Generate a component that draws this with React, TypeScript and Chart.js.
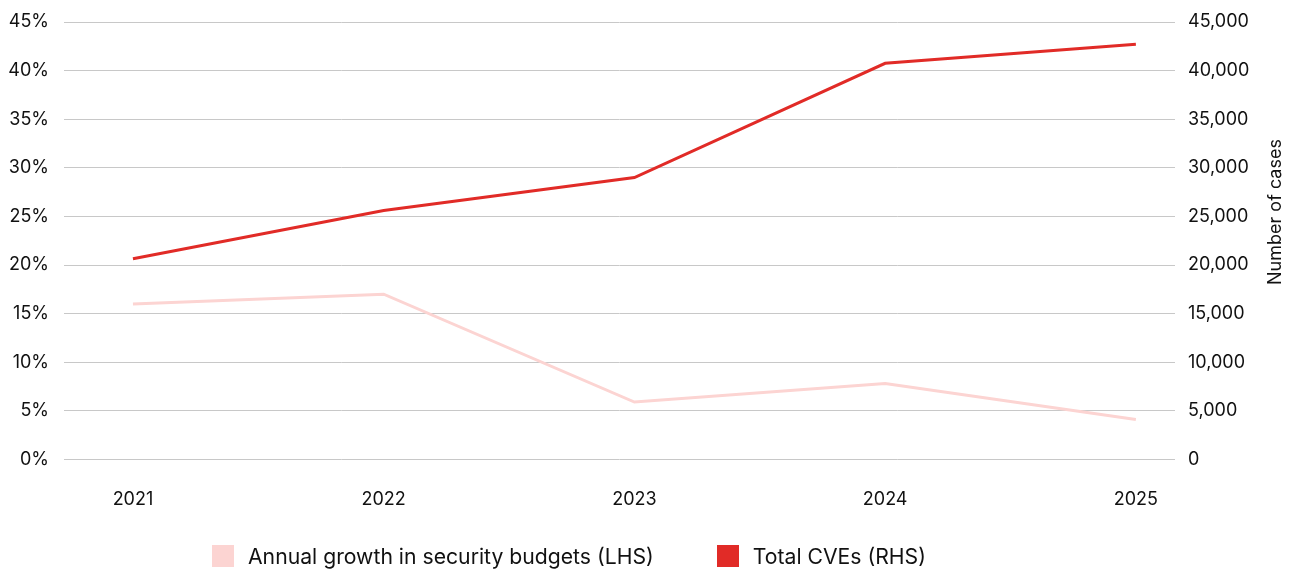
import React, { useEffect, useRef } from "react";
import { Chart, registerables } from "chart.js";

Chart.register(...registerables);

const years = [2021, 2022, 2023, 2024, 2025];
const budgetGrowth = [16.0, 17.0, 5.9, 7.8, 4.1];
const totalCVEs = [20650, 25600, 29000, 40750, 42700];
const leftTicks = [0, 5, 10, 15, 20, 25, 30, 35, 40, 45];
const rightTicks = [0, 5000, 10000, 15000, 20000, 25000, 30000, 35000, 40000, 45000];

const RED = "#e12b27";
const PINK = "#fcd4d2";
const FONT = "Inter, 'Noto Sans', sans-serif";

const rightTitle = {
  id: "rightTitle",
  afterDraw(chart: any) {
    const ctx = chart.ctx;
    ctx.save();
    ctx.translate(1276, 212);
    ctx.rotate(-Math.PI / 2);
    ctx.font = `18px ${FONT}`;
    ctx.fillStyle = "#111";
    ctx.textAlign = "center";
    ctx.textBaseline = "middle";
    ctx.fillText("Number of cases", 0, 0);
    ctx.restore();
  },
};

export default function App() {
  const ref = useRef<HTMLCanvasElement>(null);
  useEffect(() => {
    if (!ref.current) return;
    const chart = new Chart(ref.current, {
      type: "line",
      data: {
        datasets: [
          {
            label: "Annual growth in security budgets (LHS)",
            data: years.map((y, i) => ({ x: y, y: budgetGrowth[i] })),
            borderColor: PINK,
            backgroundColor: PINK,
            borderWidth: 3,
            pointRadius: 0,
            yAxisID: "y",
          },
          {
            label: "Total CVEs (RHS)",
            data: years.map((y, i) => ({ x: y, y: totalCVEs[i] })),
            borderColor: RED,
            backgroundColor: RED,
            borderWidth: 3,
            pointRadius: 0,
            yAxisID: "y1",
          },
        ],
      },
      options: {
        animation: false,
        responsive: true,
        maintainAspectRatio: false,
        layout: { padding: { top: 22, bottom: 12, left: 0, right: 0 } },
        plugins: { legend: { display: false }, tooltip: { enabled: false } },
        scales: {
          x: {
            type: "linear",
            min: 2020.725,
            max: 2025.156,
            afterBuildTicks: (s: any) => {
              s.ticks = years.map((v) => ({ value: v }));
            },
            ticks: {
              callback: (v: any) => String(v),
              color: "#111",
              font: { family: FONT, size: 18 },
              padding: 29,
              maxRotation: 0,
            },
            grid: { display: false, drawTicks: false },
            border: { display: false },
          },
          y: {
            position: "left",
            min: 0,
            max: 45,
            afterBuildTicks: (s: any) => {
              s.ticks = leftTicks.map((v) => ({ value: v }));
            },
            afterFit: (s: any) => {
              s.width = 64;
              s.paddingTop = 0;
              s.paddingBottom = 0;
            },
            ticks: {
              callback: (v: any) => v + "%",
              color: "#111",
              font: { family: FONT, size: 18 },
              padding: 15,
            },
            grid: { color: "#c8c8c8", lineWidth: 1, drawTicks: false },
            border: { display: false },
          },
          y1: {
            position: "right",
            min: 0,
            max: 45000,
            afterBuildTicks: (s: any) => {
              s.ticks = rightTicks.map((v) => ({ value: v }));
            },
            afterFit: (s: any) => {
              s.width = 121;
              s.paddingTop = 0;
              s.paddingBottom = 0;
            },
            ticks: {
              callback: (v: any) => Number(v).toLocaleString("en-US"),
              color: "#111",
              font: { family: FONT, size: 18 },
              padding: 13,
            },
            grid: { drawOnChartArea: false, drawTicks: false },
            border: { display: false },
          },
        },
      },
      plugins: [rightTitle],
    });
    return () => chart.destroy();
  }, []);

  const legendItem = (color: string, text: string, ml: number) => (
    <div style={{ display: "flex", alignItems: "center", marginLeft: ml }}>
      <div style={{ width: 22, height: 22, background: color, marginRight: 14 }} />
      <span style={{ fontFamily: FONT, fontSize: 21.2, color: "#111", whiteSpace: "nowrap" }}>{text}</span>
    </div>
  );

  return (
    <div
      style={{
        position: "fixed",
        top: 0,
        left: 0,
        width: 1296,
        height: 569,
        overflow: "hidden",
        background: "#fff",
      }}
    >
      <div style={{ position: "absolute", top: 0, left: 0, width: 1296, height: 551 }}>
        <canvas ref={ref} />
      </div>
      <div
        style={{
          position: "absolute",
          top: 545,
          left: 212,
          height: 22,
          display: "flex",
          alignItems: "center",
        }}
      >
        {legendItem(PINK, "Annual growth in security budgets (LHS)", 0)}
        {legendItem(RED, "Total CVEs (RHS)", 63)}
      </div>
    </div>
  );
}
